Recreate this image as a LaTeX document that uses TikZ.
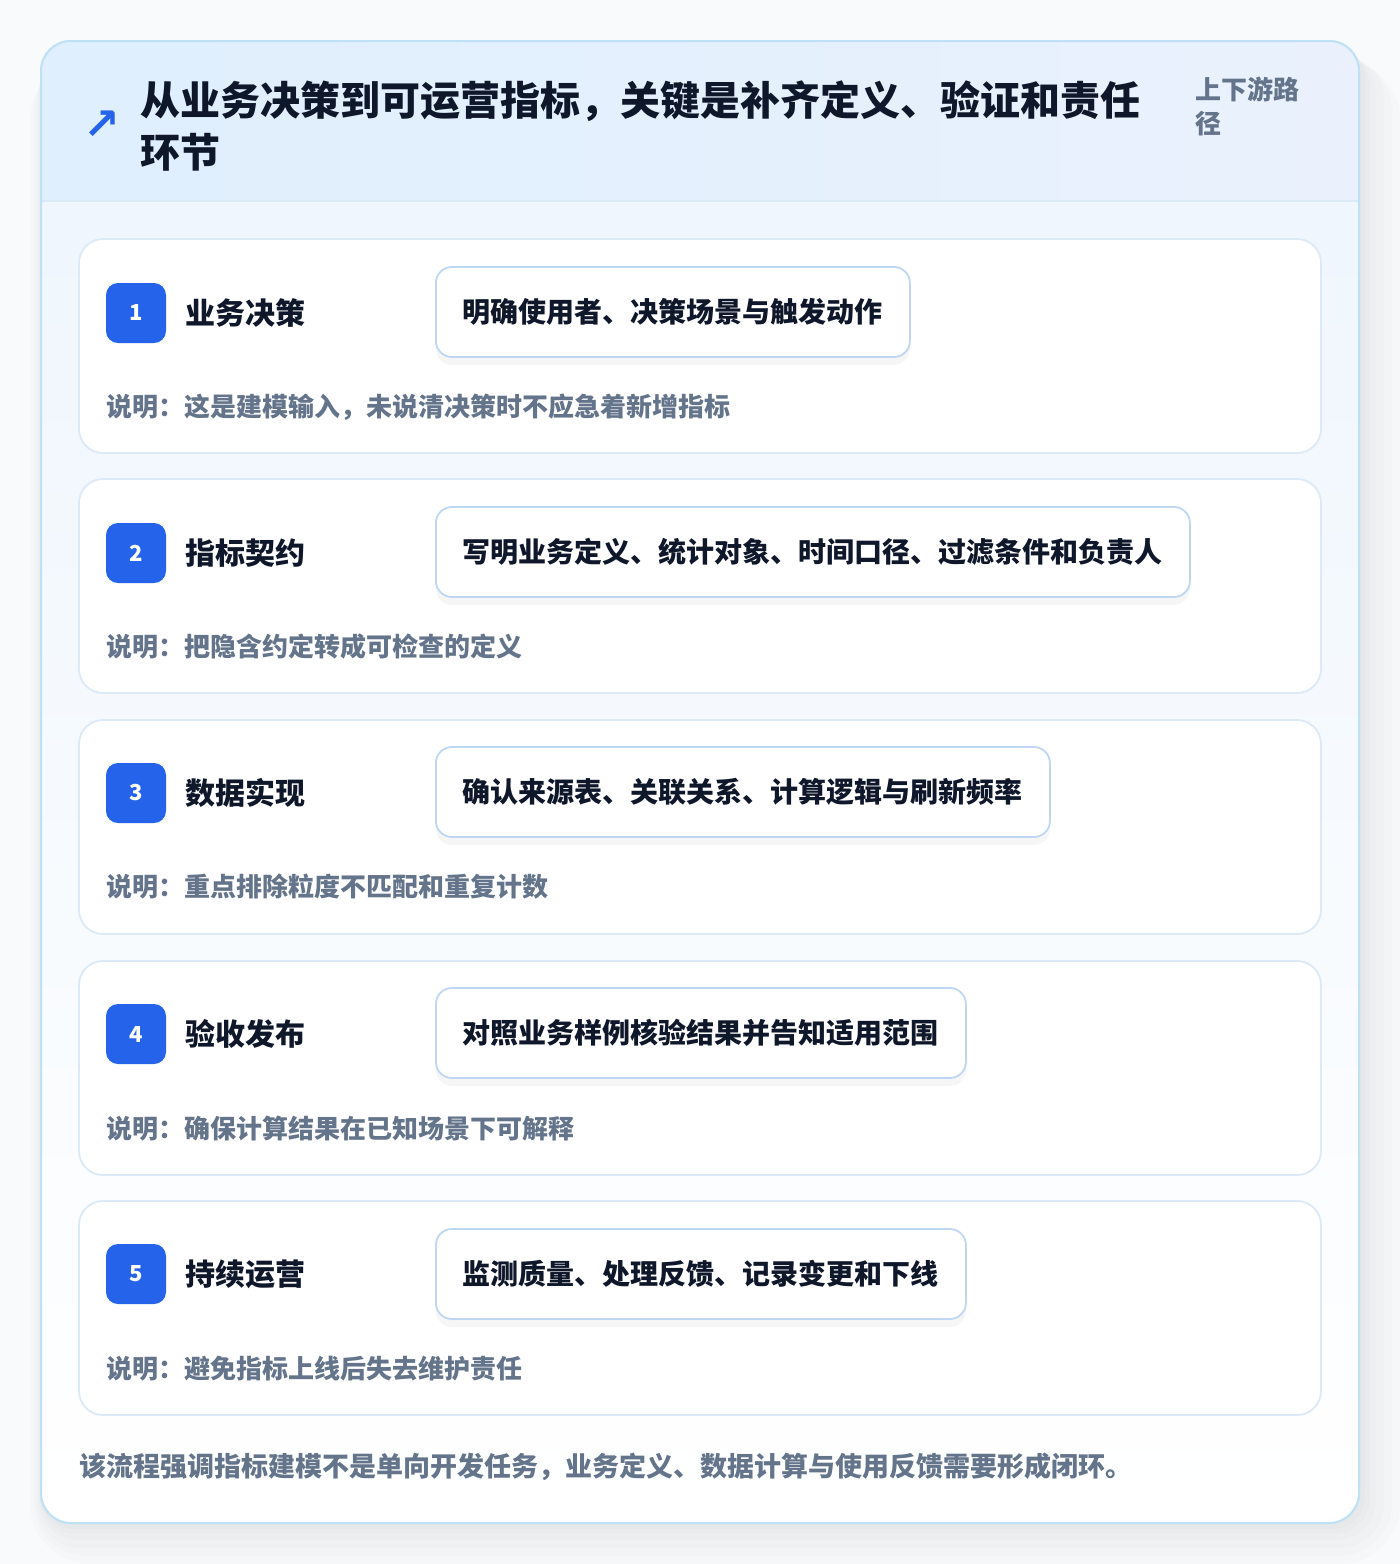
\documentclass[tikz,border=0pt]{standalone}
\usepackage{fontspec}
\setmainfont{Noto Sans CJK SC}
\newfontfamily\symfont{DejaVu Sans}
\usetikzlibrary{positioning,shadows}

\definecolor{inkdark}{HTML}{0F172A}
\definecolor{inkgrey}{HTML}{64748B}
\definecolor{accent}{HTML}{2563EB}
\definecolor{frameline}{HTML}{BFE1F6}
\definecolor{cardline}{HTML}{DCE9F7}
\definecolor{pillline}{HTML}{BFD7F5}
\definecolor{headleft}{HTML}{DFEFFD}
\definecolor{headright}{HTML}{EAF1FD}
\definecolor{bodytop}{HTML}{EFF6FD}
\definecolor{pagebg}{HTML}{F9FAFB}

\begin{document}
\begin{tikzpicture}[x=0.5pt, y=-0.5pt,
	card/.style={draw=cardline, line width=0.9pt, fill=white, rounded corners=12pt,
		minimum width=621pt, minimum height=107pt, inner sep=0pt},
	badge/.style={fill=accent, rounded corners=6pt, minimum size=30pt, inner sep=0pt,
		text=white, font=\fontsize{11}{13}\selectfont\bfseries},
	steptitle/.style={inner sep=0pt, text=inkdark, font=\fontsize{15}{18}\selectfont\bfseries},
	pill/.style={draw=pillline, line width=0.9pt, fill=white, rounded corners=8pt,
		minimum height=45pt, inner xsep=13.5pt, inner ysep=0pt, text=inkdark,
		font=\fontsize{14}{17}\selectfont\bfseries,
		drop shadow={shadow xshift=0pt, shadow yshift=-4pt, opacity=0.035, fill=black}},
	note/.style={anchor=west, inner sep=0pt, text=inkgrey, font=\fontsize{13}{16}\selectfont\bfseries},
	haze/.style={fill=black, opacity=0.012}]

	\useasboundingbox (0,0) rectangle (1400,1564);
	\fill[pagebg] (0,0) rectangle (1400,1564);

	% soft shadow of the main card
	\fill[haze, rounded corners=30pt] (30,60) rectangle (1400,1564);
	\fill[haze, rounded corners=26pt] (34,58) rectangle (1392,1556);
	\fill[haze, rounded corners=22pt] (37,55) rectangle (1384,1548);
	\fill[haze, rounded corners=20pt] (39,52) rectangle (1376,1540);
	\fill[haze, rounded corners=18pt] (40,49) rectangle (1370,1534);
	\fill[haze, rounded corners=16pt] (41,46) rectangle (1365,1529);

	% main card
	\node[draw=frameline, line width=1pt, fill=white, rounded corners=15pt,
		minimum width=659pt, minimum height=741pt, inner sep=0pt] (frame) at (700,782) {};
	\begin{scope}
		\clip[rounded corners=15pt] (41,41) rectangle (1359,1523);
		\shade[top color=bodytop, bottom color=white] (41,201) rectangle (1359,1523);
		\shade[left color=headleft, right color=headright] (41,41) rectangle (1359,201);
		\draw[cardline, line width=1pt] (41,201) -- (1359,201);
	\end{scope}
	\draw[frameline, line width=1pt, rounded corners=15pt] (41,41) rectangle (1359,1523);

	% header
	\node[text=accent, font=\symfont\fontsize{22}{22}\selectfont\bfseries, inner sep=0pt] (icon) at (102,125) {↗};
	\node[anchor=west, align=left, inner sep=0pt, text=inkdark,
		font=\fontsize{20}{26}\selectfont\bfseries] (title) at (140,126)
		{从业务决策到可运营指标，关键是补齐定义、验证和责任\\环节};
	\node[anchor=west, align=left, inner sep=0pt, text=inkgrey,
		font=\fontsize{13}{17}\selectfont\bfseries] (scope) at (1195,106) {上下游路\\径};

	% step 1
	\node[card] (c1) at (700,346) {};
	\node[badge] (b1) at (136,313) {1};
	\node[steptitle, right=9.5pt of b1] (t1) {业务决策};
	\node[pill, anchor=west] (p1) at (435,312) {明确使用者、决策场景与触发动作};
	\node[note] (n1) at (106,407) {说明：这是建模输入，未说清决策时不应急着新增指标};

	% step 2
	\node[card] (c2) at (700,586) {};
	\node[badge] (b2) at (136,553) {2};
	\node[steptitle, right=9.5pt of b2] (t2) {指标契约};
	\node[pill, anchor=west] (p2) at (435,552) {写明业务定义、统计对象、时间口径、过滤条件和负责人};
	\node[note] (n2) at (106,647) {说明：把隐含约定转成可检查的定义};

	% step 3
	\node[card] (c3) at (700,827) {};
	\node[badge] (b3) at (136,793) {3};
	\node[steptitle, right=9.5pt of b3] (t3) {数据实现};
	\node[pill, anchor=west] (p3) at (435,792) {确认来源表、关联关系、计算逻辑与刷新频率};
	\node[note] (n3) at (106,887) {说明：重点排除粒度不匹配和重复计数};

	% step 4
	\node[card] (c4) at (700,1068) {};
	\node[badge] (b4) at (136,1034) {4};
	\node[steptitle, right=9.5pt of b4] (t4) {验收发布};
	\node[pill, anchor=west] (p4) at (435,1033) {对照业务样例核验结果并告知适用范围};
	\node[note] (n4) at (106,1129) {说明：确保计算结果在已知场景下可解释};

	% step 5
	\node[card] (c5) at (700,1308) {};
	\node[badge] (b5) at (136,1274) {5};
	\node[steptitle, right=9.5pt of b5] (t5) {持续运营};
	\node[pill, anchor=west] (p5) at (435,1274) {监测质量、处理反馈、记录变更和下线};
	\node[note] (n5) at (106,1369) {说明：避免指标上线后失去维护责任};

	% footer
	\node[note, font=\fontsize{13.5}{16}\selectfont\bfseries] (foot) at (79,1467) {该流程强调指标建模不是单向开发任务，业务定义、数据计算与使用反馈需要形成闭环。};
\end{tikzpicture}
\end{document}
